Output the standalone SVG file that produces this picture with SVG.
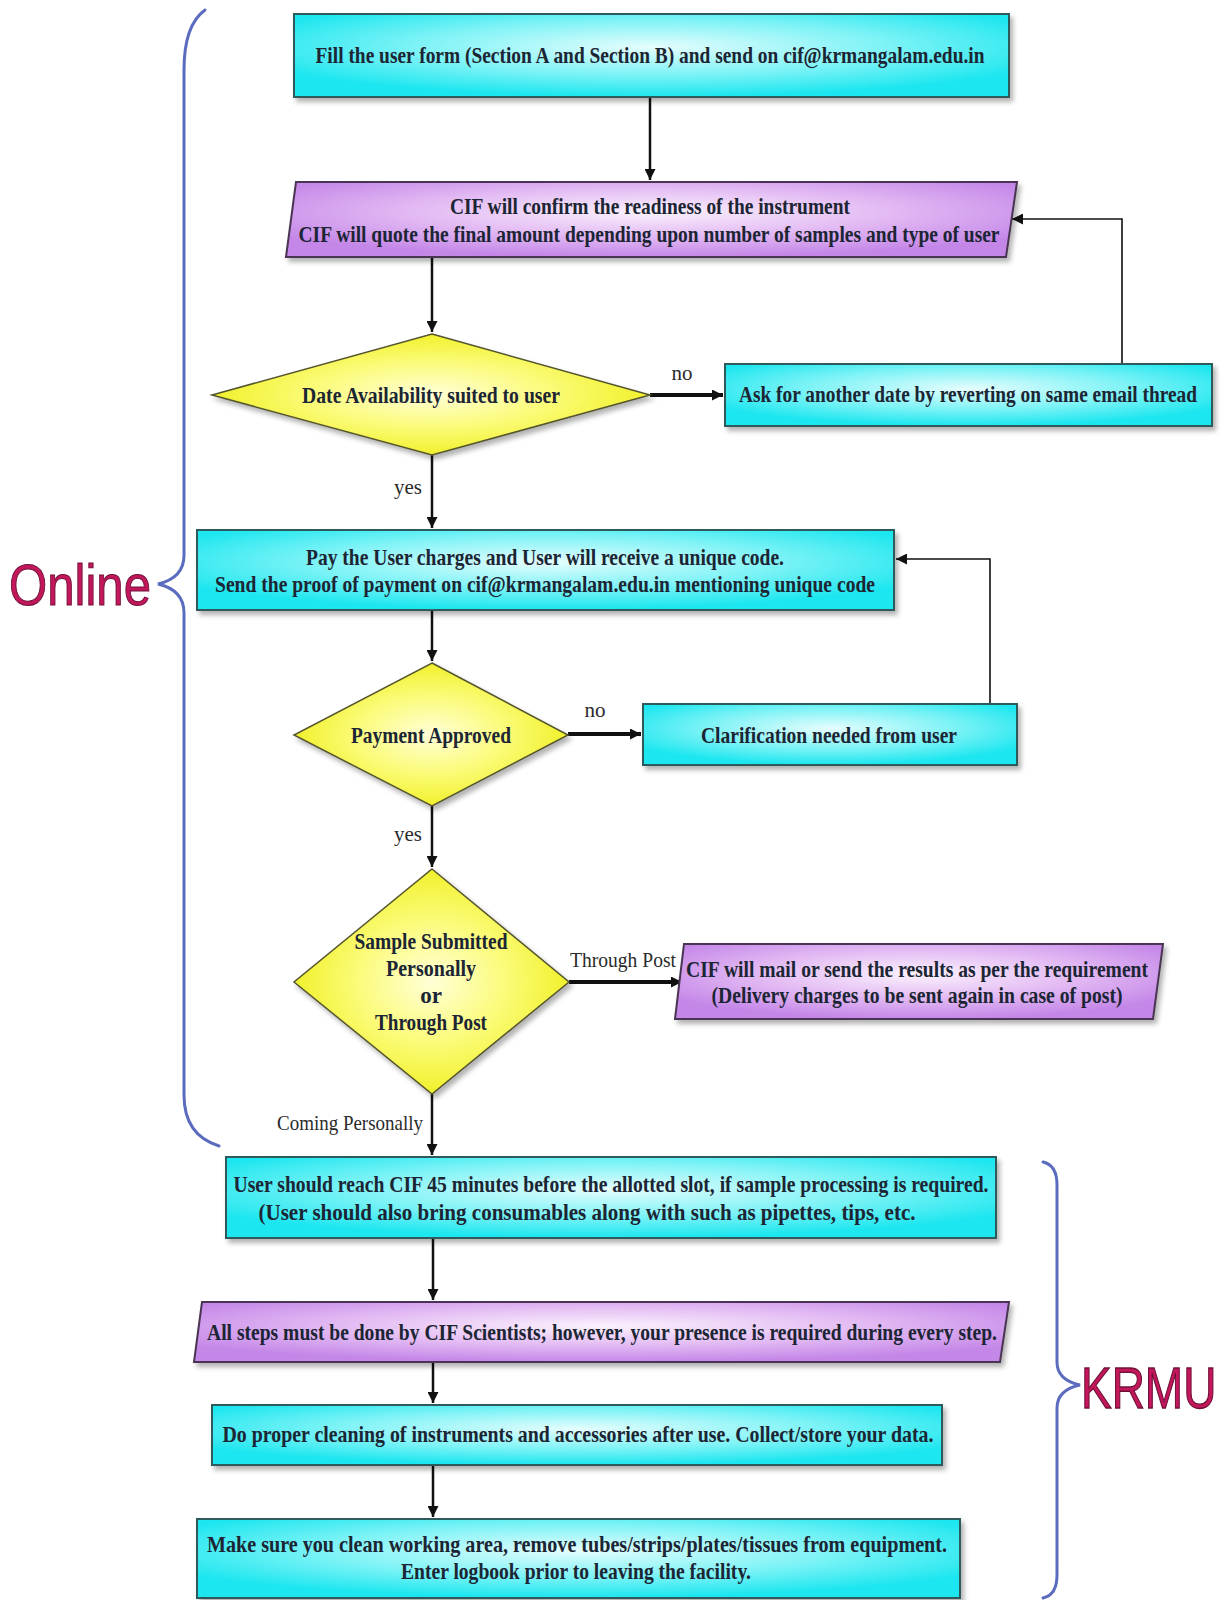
<svg xmlns="http://www.w3.org/2000/svg" width="1227" height="1600" viewBox="0 0 1227 1600">
<defs>
<radialGradient id="gc" cx="50%" cy="40%" r="60%">
<stop offset="0" stop-color="#e6fdfd"/><stop offset="0.55" stop-color="#7df3f6"/><stop offset="1" stop-color="#1be6ef"/>
</radialGradient>
<radialGradient id="gp" cx="50%" cy="40%" r="60%">
<stop offset="0" stop-color="#fbf2fd"/><stop offset="0.55" stop-color="#e2b9f3"/><stop offset="1" stop-color="#c487e8"/>
</radialGradient>
<radialGradient id="gy" cx="50%" cy="50%" r="55%">
<stop offset="0" stop-color="#ffffd8"/><stop offset="0.5" stop-color="#fbfb78"/><stop offset="1" stop-color="#eeee1a"/>
</radialGradient>
<filter id="sh" x="-5%" y="-20%" width="110%" height="150%">
<feDropShadow dx="3" dy="4" stdDeviation="2.5" flood-color="#000" flood-opacity="0.3"/>
</filter>
<marker id="ah" markerUnits="userSpaceOnUse" markerWidth="11" markerHeight="11" refX="11" refY="5.5" orient="auto">
<path d="M0,0 L11,5.5 L0,11 z" fill="#111"/>
</marker>
</defs>
<style>
.box{fill:url(#gc);stroke:#2d5a5c;stroke-width:2;filter:url(#sh)}
.par{fill:url(#gp);stroke:#4a3552;stroke-width:2;filter:url(#sh)}
.dia{fill:url(#gy);stroke:#55552e;stroke-width:1.5;filter:url(#sh)}
.t{font-family:"Liberation Serif",serif;font-weight:bold;font-size:23px;fill:#1c2533;text-anchor:middle}
.l{font-family:"Liberation Serif",serif;font-size:21px;fill:#2a2a2a;text-anchor:middle}
.c{fill:none;stroke:#111;stroke-width:2.5}
.ct{fill:none;stroke:#111;stroke-width:4}
.cf{fill:none;stroke:#111;stroke-width:1.6}
.brace{fill:none;stroke:#5b6cbf;stroke-width:3;stroke-linecap:round}
.big{font-family:"Liberation Sans",sans-serif;fill:#c2185b;stroke:#6e0e36;stroke-width:1}
</style>
<rect width="1227" height="1600" fill="#fff"/>

<g id="braces">
<path class="brace" d="M205 10 Q184 25 184 70 L184 555 Q184 578 158 584 Q184 590 184 613 L184 1095 Q184 1135 219 1146"/>
<path class="brace" d="M1043 1162 Q1057 1165 1057 1185 L1057 1362 Q1057 1380 1080 1385 Q1057 1390 1057 1408 L1057 1575 Q1057 1595 1043 1598"/>
<text id="online" class="big" font-size="58" x="9" y="605" textLength="142" lengthAdjust="spacingAndGlyphs">Online</text>
<text id="krmu" class="big" font-size="46" transform="translate(1081 1408) scale(1 1.25)" x="0" y="0">KRMU</text>
</g>

<g id="connectors">
<path class="c" d="M650 97 L650 180" marker-end="url(#ah)"/>
<path class="c" d="M432 258 L432 332" marker-end="url(#ah)"/>
<path class="ct" d="M650 395 L723 395" marker-end="url(#ah)"/>
<path class="cf" d="M1122 364 L1122 219 L1012 219" marker-end="url(#ah)"/>
<path class="c" d="M432 455 L432 528" marker-end="url(#ah)"/>
<path class="c" d="M432 610 L432 661" marker-end="url(#ah)"/>
<path class="ct" d="M568 734 L641 734" marker-end="url(#ah)"/>
<path class="cf" d="M990 704 L990 559 L896 559" marker-end="url(#ah)"/>
<path class="c" d="M432 806 L432 867" marker-end="url(#ah)"/>
<path class="ct" d="M569 982 L682 982" marker-end="url(#ah)"/>
<path class="c" d="M432 1094 L432 1155" marker-end="url(#ah)"/>
<path class="c" d="M433 1238 L433 1300" marker-end="url(#ah)"/>
<path class="c" d="M433 1362 L433 1403" marker-end="url(#ah)"/>
<path class="c" d="M433 1465 L433 1517" marker-end="url(#ah)"/>
<text class="l" x="682" y="380">no</text>
<text class="l" x="408" y="494">yes</text>
<text class="l" x="595" y="717">no</text>
<text class="l" x="408" y="841">yes</text>
<text class="l" x="623" y="967" textLength="106" lengthAdjust="spacingAndGlyphs">Through Post</text>
<text class="l" x="350" y="1130" textLength="146" lengthAdjust="spacingAndGlyphs">Coming Personally</text>
</g>

<g id="n1">
<rect class="box" x="294" y="14" width="715" height="83"/>
<text class="t" x="650" y="63" textLength="669" lengthAdjust="spacingAndGlyphs">Fill the user form (Section A and Section B) and send on cif@krmangalam.edu.in</text>
</g>

<g id="n2">
<polygon class="par" points="296,182 1017,182 1006,257 286,257"/>
<text class="t" x="650" y="214" textLength="400" lengthAdjust="spacingAndGlyphs">CIF will confirm the readiness of the instrument</text>
<text class="t" x="649" y="242" textLength="701" lengthAdjust="spacingAndGlyphs">CIF will quote the final amount depending upon number of samples and type of user</text>
</g>

<g id="n3">
<polygon class="dia" points="432,334 650,395 432,455 212,395"/>
<text class="t" x="431" y="403" textLength="258" lengthAdjust="spacingAndGlyphs">Date Availability suited to user</text>
</g>

<g id="n4">
<rect class="box" x="725" y="364" width="487" height="62"/>
<text class="t" style="font-size:18px" transform="translate(968 402) scale(1 1.26)" x="0" y="0" textLength="458" lengthAdjust="spacingAndGlyphs">Ask for another date by reverting on same email thread</text>
</g>

<g id="n5">
<rect class="box" x="197" y="530" width="697" height="80"/>
<text class="t" x="545" y="565" textLength="478" lengthAdjust="spacingAndGlyphs">Pay the User charges and User will receive a unique code.</text>
<text class="t" x="545" y="592" textLength="660" lengthAdjust="spacingAndGlyphs">Send the proof of payment on cif@krmangalam.edu.in mentioning unique code</text>
</g>

<g id="n6">
<polygon class="dia" points="432,663 568,735 432,806 294,735"/>
<text class="t" x="431" y="743" textLength="160" lengthAdjust="spacingAndGlyphs">Payment Approved</text>
</g>

<g id="n7">
<rect class="box" x="643" y="704" width="374" height="61"/>
<text class="t" x="829" y="743" textLength="256" lengthAdjust="spacingAndGlyphs">Clarification needed from user</text>
</g>

<g id="n8">
<polygon class="dia" points="432,869 569,982 432,1094 294,982"/>
<text class="t" x="431" y="949" textLength="153" lengthAdjust="spacingAndGlyphs">Sample Submitted</text>
<text class="t" x="431" y="976" textLength="90" lengthAdjust="spacingAndGlyphs">Personally</text>
<text class="t" x="431" y="1003">or</text>
<text class="t" x="431" y="1030" textLength="112" lengthAdjust="spacingAndGlyphs">Through Post</text>
</g>

<g id="n9">
<polygon class="par" points="684,944 1163,944 1153,1019 675,1019"/>
<text class="t" x="917" y="977" textLength="462" lengthAdjust="spacingAndGlyphs">CIF will mail or send the results as per the requirement</text>
<text class="t" x="917" y="1003" textLength="411" lengthAdjust="spacingAndGlyphs">(Delivery charges to be sent again in case of post)</text>
</g>

<g id="n10">
<rect class="box" x="226" y="1157" width="770" height="81"/>
<text class="t" x="611" y="1192" textLength="755" lengthAdjust="spacingAndGlyphs">User should reach CIF 45 minutes before the allotted slot, if sample processing is required.</text>
<text class="t" x="587" y="1220" textLength="657" lengthAdjust="spacingAndGlyphs">(User should also bring consumables along with such as pipettes, tips, etc.</text>
</g>

<g id="n11">
<polygon class="par" points="202,1302 1009,1302 1000,1362 194,1362"/>
<text class="t" x="602" y="1340" textLength="790" lengthAdjust="spacingAndGlyphs">All steps must be done by CIF Scientists; however, your presence is required during every step.</text>
</g>

<g id="n12">
<rect class="box" x="212" y="1405" width="730" height="60"/>
<text class="t" x="578" y="1442" textLength="711" lengthAdjust="spacingAndGlyphs">Do proper cleaning of instruments and accessories after use.  Collect/store your data.</text>
</g>

<g id="n13">
<rect class="box" x="197" y="1519" width="763" height="79"/>
<text class="t" x="577" y="1552" textLength="740" lengthAdjust="spacingAndGlyphs">Make sure you clean working area, remove tubes/strips/plates/tissues from equipment.</text>
<text class="t" x="576" y="1579" textLength="350" lengthAdjust="spacingAndGlyphs">Enter logbook prior to leaving the facility.</text>
</g>
</svg>
